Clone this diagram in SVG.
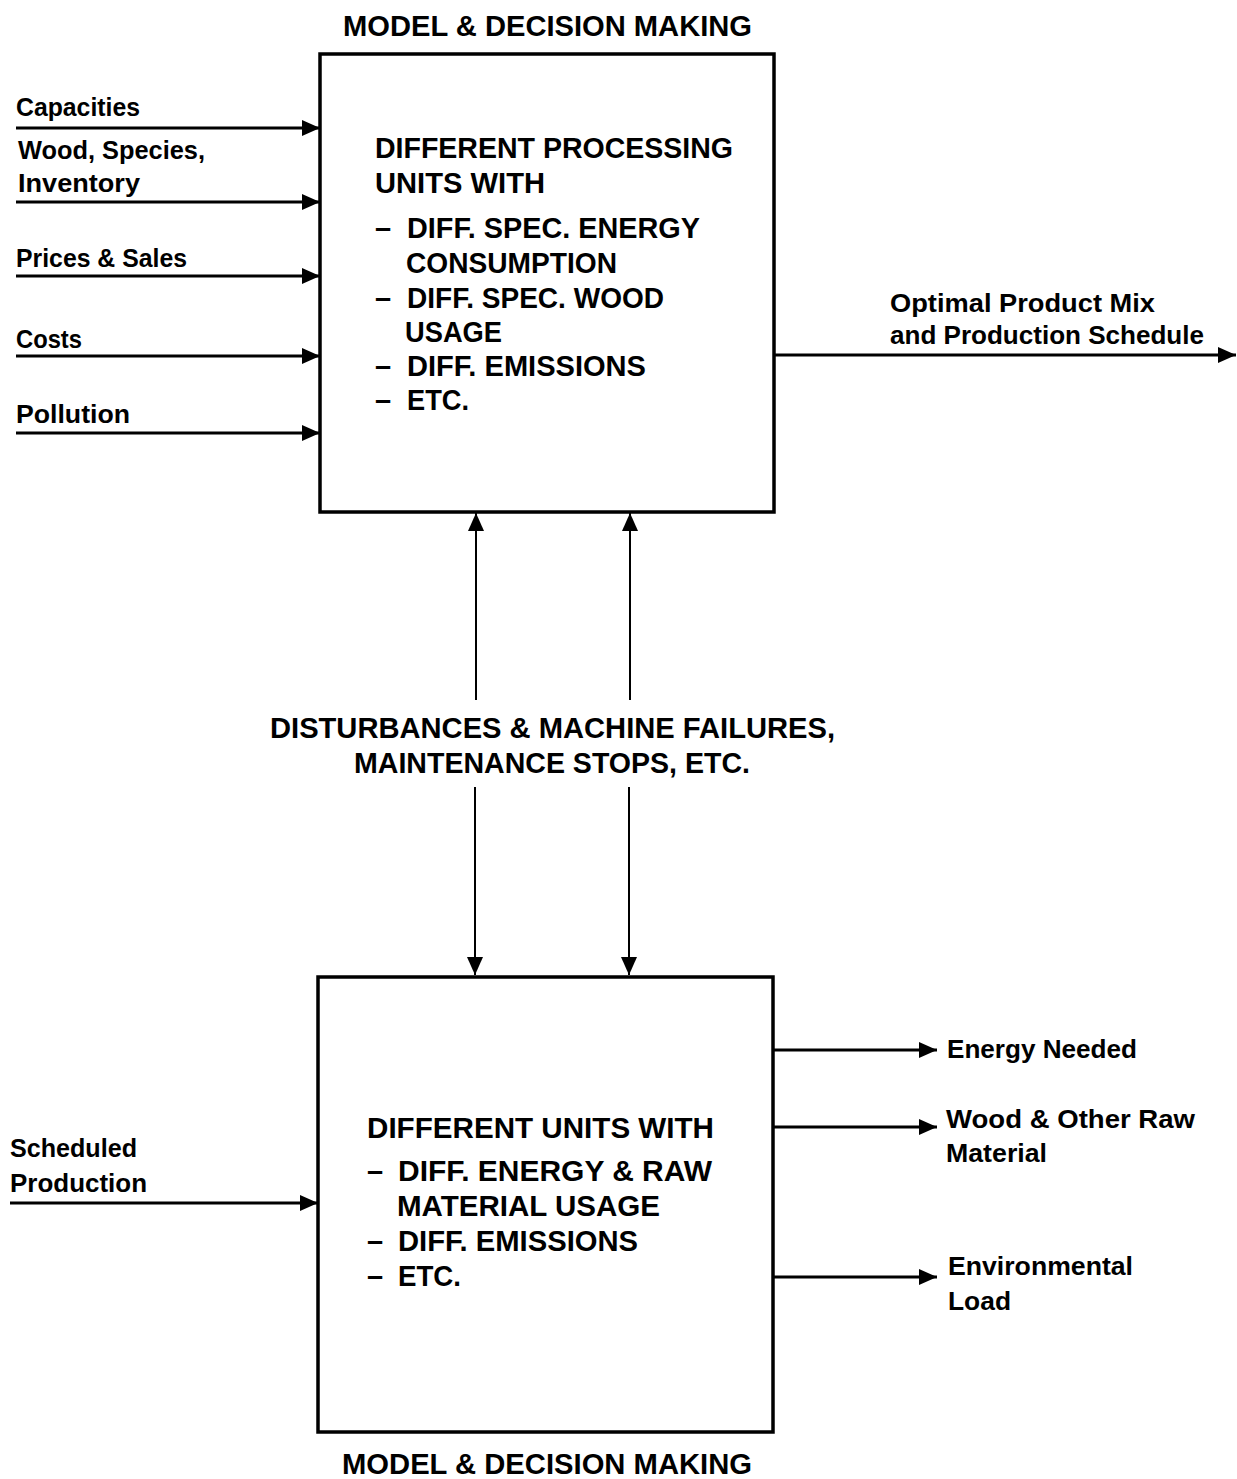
<svg xmlns="http://www.w3.org/2000/svg" width="1237" height="1479" viewBox="0 0 1237 1479">
<style>
text{font-family:"Liberation Sans",Arial,sans-serif;font-weight:bold;fill:#000}
.t{font-size:29px}
.l{font-size:26px}
.b{fill:#fff;stroke:#000;stroke-width:3.5}
.c{stroke:#000;stroke-width:3;fill:none}
.v{stroke:#000;stroke-width:2;fill:none}
</style>
<defs>
<marker id="ah" viewBox="0 0 18 16" refX="18" refY="8" markerWidth="18" markerHeight="16" markerUnits="userSpaceOnUse" orient="auto">
<path d="M0,0 L18,8 L0,16 z" fill="#000"/>
</marker>
</defs>
<rect width="1237" height="1479" fill="#fff"/>

<g id="top-box">
<rect class="b" x="320" y="54" width="454" height="458"/>
<text class="t" x="343" y="36" textLength="409" lengthAdjust="spacingAndGlyphs">MODEL &amp; DECISION MAKING</text>
<text class="t" x="375" y="158" textLength="358" lengthAdjust="spacingAndGlyphs">DIFFERENT PROCESSING</text>
<text class="t" x="375" y="193" textLength="170" lengthAdjust="spacingAndGlyphs">UNITS WITH</text>
<text class="t" x="375" y="238">–</text>
<text class="t" x="407" y="238" textLength="293" lengthAdjust="spacingAndGlyphs">DIFF. SPEC. ENERGY</text>
<text class="t" x="406" y="273" textLength="211" lengthAdjust="spacingAndGlyphs">CONSUMPTION</text>
<text class="t" x="375" y="308">–</text>
<text class="t" x="407" y="308" textLength="257" lengthAdjust="spacingAndGlyphs">DIFF. SPEC. WOOD</text>
<text class="t" x="405" y="342" textLength="97" lengthAdjust="spacingAndGlyphs">USAGE</text>
<text class="t" x="375" y="376">–</text>
<text class="t" x="407" y="376" textLength="239" lengthAdjust="spacingAndGlyphs">DIFF. EMISSIONS</text>
<text class="t" x="375" y="410">–</text>
<text class="t" x="407" y="410" textLength="62" lengthAdjust="spacingAndGlyphs">ETC.</text>
</g>

<g id="bottom-box">
<rect class="b" x="318" y="977" width="455" height="455"/>
<text class="t" x="342" y="1474" textLength="410" lengthAdjust="spacingAndGlyphs">MODEL &amp; DECISION MAKING</text>
<text class="t" x="367" y="1138" textLength="347" lengthAdjust="spacingAndGlyphs">DIFFERENT UNITS WITH</text>
<text class="t" x="367" y="1181">–</text>
<text class="t" x="398" y="1181" textLength="314" lengthAdjust="spacingAndGlyphs">DIFF. ENERGY &amp; RAW</text>
<text class="t" x="397" y="1216" textLength="263" lengthAdjust="spacingAndGlyphs">MATERIAL USAGE</text>
<text class="t" x="367" y="1251">–</text>
<text class="t" x="398" y="1251" textLength="240" lengthAdjust="spacingAndGlyphs">DIFF. EMISSIONS</text>
<text class="t" x="367" y="1286">–</text>
<text class="t" x="398" y="1286" textLength="63" lengthAdjust="spacingAndGlyphs">ETC.</text>
</g>

<g id="labels">
<text class="l" x="16" y="116" textLength="124" lengthAdjust="spacingAndGlyphs">Capacities</text>
<text class="l" x="18" y="159" textLength="187" lengthAdjust="spacingAndGlyphs">Wood, Species,</text>
<text class="l" x="18" y="192" textLength="122" lengthAdjust="spacingAndGlyphs">Inventory</text>
<text class="l" x="16" y="267" textLength="171" lengthAdjust="spacingAndGlyphs">Prices &amp; Sales</text>
<text class="l" x="16" y="348" textLength="66" lengthAdjust="spacingAndGlyphs">Costs</text>
<text class="l" x="16" y="423" textLength="114" lengthAdjust="spacingAndGlyphs">Pollution</text>
<text class="l" x="890" y="312" textLength="265" lengthAdjust="spacingAndGlyphs">Optimal Product Mix</text>
<text class="l" x="890" y="344" textLength="314" lengthAdjust="spacingAndGlyphs">and Production Schedule</text>
<text class="t" x="270" y="738" textLength="565" lengthAdjust="spacingAndGlyphs">DISTURBANCES &amp; MACHINE FAILURES,</text>
<text class="t" x="354" y="773" textLength="396" lengthAdjust="spacingAndGlyphs">MAINTENANCE STOPS, ETC.</text>
<text class="l" x="10" y="1157" textLength="127" lengthAdjust="spacingAndGlyphs">Scheduled</text>
<text class="l" x="10" y="1192" textLength="137" lengthAdjust="spacingAndGlyphs">Production</text>
<text class="l" x="947" y="1058" textLength="190" lengthAdjust="spacingAndGlyphs">Energy Needed</text>
<text class="l" x="946" y="1128" textLength="249" lengthAdjust="spacingAndGlyphs">Wood &amp; Other Raw</text>
<text class="l" x="946" y="1162" textLength="101" lengthAdjust="spacingAndGlyphs">Material</text>
<text class="l" x="948" y="1275" textLength="185" lengthAdjust="spacingAndGlyphs">Environmental</text>
<text class="l" x="948" y="1310" textLength="63" lengthAdjust="spacingAndGlyphs">Load</text>
</g>

<g id="connectors">
<line class="c" x1="16" y1="128" x2="320" y2="128" marker-end="url(#ah)"/>
<line class="c" x1="16" y1="202" x2="320" y2="202" marker-end="url(#ah)"/>
<line class="c" x1="16" y1="276" x2="320" y2="276" marker-end="url(#ah)"/>
<line class="c" x1="16" y1="356" x2="320" y2="356" marker-end="url(#ah)"/>
<line class="c" x1="16" y1="433" x2="320" y2="433" marker-end="url(#ah)"/>
<line class="c" x1="774" y1="355" x2="1236" y2="355" marker-end="url(#ah)"/>
<line class="v" x1="476" y1="700" x2="476" y2="513" marker-end="url(#ah)"/>
<line class="v" x1="630" y1="700" x2="630" y2="513" marker-end="url(#ah)"/>
<line class="v" x1="475" y1="787" x2="475" y2="975" marker-end="url(#ah)"/>
<line class="v" x1="629" y1="787" x2="629" y2="975" marker-end="url(#ah)"/>
<line class="c" x1="10" y1="1203" x2="318" y2="1203" marker-end="url(#ah)"/>
<line class="c" x1="773" y1="1050" x2="937" y2="1050" marker-end="url(#ah)"/>
<line class="c" x1="773" y1="1127" x2="937" y2="1127" marker-end="url(#ah)"/>
<line class="c" x1="773" y1="1277" x2="937" y2="1277" marker-end="url(#ah)"/>
</g>
</svg>
